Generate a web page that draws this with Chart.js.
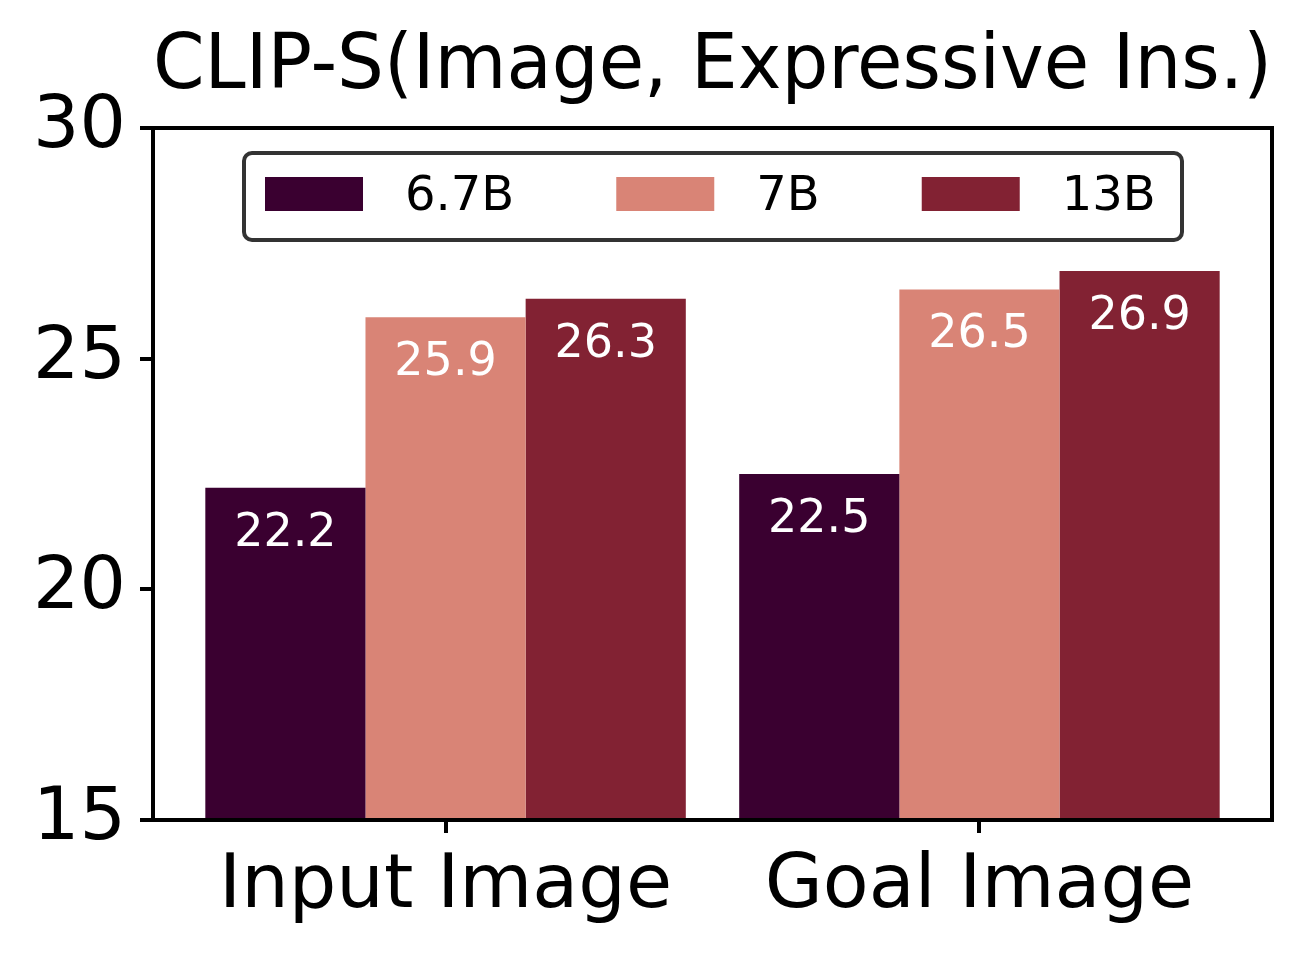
<!DOCTYPE html>
<html>
<head>
<meta charset="utf-8">
<script src="https://cdn.jsdelivr.net/npm/chart.js@4"></script>
<style>
  body { margin: 0; background: #fff; }
</style>
</head>
<body>
<canvas id="myChart" width="1310" height="953"></canvas>
<script>
const categories = ['Input Image', 'Goal Image'];
const seriesNames = ['6.7B', '7B', '13B'];
const vals67B = [22.2, 22.5];
const vals7B = [25.9, 26.5];
const vals13B = [26.3, 26.9];
const yTicks = [15, 20, 25, 30];
const colors = ['#3a0030', '#d98476', '#822233'];

const FONT = 'DejaVu Sans';

// x is linear so the group centres sit where matplotlib puts them
const toPoints = arr => arr.map((v, i) => ({ x: i, y: v }));

// white value labels inside the top of each bar
const barLabels = {
  id: 'barLabels',
  afterDatasetsDraw(chart) {
    const c = chart.ctx;
    c.save();
    c.font = '46px "' + FONT + '"';
    c.fillStyle = '#fff';
    c.textAlign = 'center';
    c.textBaseline = 'middle';
    chart.data.datasets.forEach((ds, di) => {
      chart.getDatasetMeta(di).data.forEach((bar, i) => {
        c.fillText(ds.data[i].y.toFixed(1), bar.x, bar.y + 46);
      });
    });
    c.restore();
  }
};

// frame around the plot + legend box
const frameAndLegend = {
  id: 'frameAndLegend',
  afterDraw(chart) {
    const c = chart.ctx;
    const a = chart.chartArea;
    c.save();
    c.strokeStyle = '#000';
    c.lineWidth = 4;
    c.strokeRect(a.left, a.top, a.right - a.left, a.bottom - a.top);

    // legend
    const bx = a.left + 91, by = a.top + 25, bw = 938, bh = 87;
    c.lineWidth = 4;
    c.strokeStyle = '#333';
    c.fillStyle = '#fff';
    c.beginPath();
    c.roundRect(bx, by, bw, bh, 8);
    c.fill();
    c.stroke();

    c.font = '48px "' + FONT + '"';
    c.textBaseline = 'middle';
    c.textAlign = 'left';
    let x = bx + 21;
    const cy = by + 41;
    chart.data.datasets.forEach(ds => {
      c.fillStyle = ds.backgroundColor;
      c.fillRect(x, cy - 17, 98, 34);
      c.fillStyle = '#000';
      c.fillText(ds.label, x + 140, cy + 4);
      x += 140 + c.measureText(ds.label).width + 102;
    });
    c.restore();
  }
};

const ctx = document.getElementById('myChart').getContext('2d');

const myChart = new Chart(ctx, {
  type: 'bar',
  data: {
    datasets: [
      { label: seriesNames[0], data: toPoints(vals67B), backgroundColor: colors[0] },
      { label: seriesNames[1], data: toPoints(vals7B), backgroundColor: colors[1] },
      { label: seriesNames[2], data: toPoints(vals13B), backgroundColor: colors[2] }
    ]
  },
  options: {
    responsive: false,
    animation: false,
    categoryPercentage: 0.9,
    barPercentage: 1.0,
    layout: { padding: { left: 0, right: 38, top: 0, bottom: 0 } },
    plugins: {
      legend: { display: false },
      tooltip: { enabled: false },
      title: {
        display: true,
        fullSize: false,
        text: 'CLIP-S(Image, Expressive Ins.)',
        color: '#000',
        font: { family: FONT, size: 77, weight: 'normal', lineHeight: 1.2 },
        padding: { top: 22, bottom: 13.6 }
      }
    },
    scales: {
      x: {
        type: 'linear',
        offset: false,
        min: -0.548,
        max: 1.548,
        afterBuildTicks: s => { s.ticks = categories.map((_, i) => ({ value: i })); },
        afterFit: s => { s.height = 133; },
        border: { display: false },
        grid: { offset: false, drawOnChartArea: false, drawTicks: true, tickLength: 13, lineWidth: 4, color: '#000' },
        ticks: {
          color: '#000',
          padding: 10,
          font: { family: FONT, size: 75 },
          callback: v => categories[v] ?? ''
        }
      },
      y: {
        min: 15,
        max: 30,
        afterBuildTicks: s => { s.ticks = yTicks.map(v => ({ value: v })); },
        afterFit: s => { s.width = 153; },
        border: { display: false },
        grid: { drawOnChartArea: false, drawTicks: true, tickLength: 13, lineWidth: 4, color: '#000' },
        ticks: {
          color: '#000',
          padding: 14,
          font: { family: FONT, size: 73 }
        }
      }
    }
  },
  plugins: [barLabels, frameAndLegend]
});
</script>
</body>
</html>
